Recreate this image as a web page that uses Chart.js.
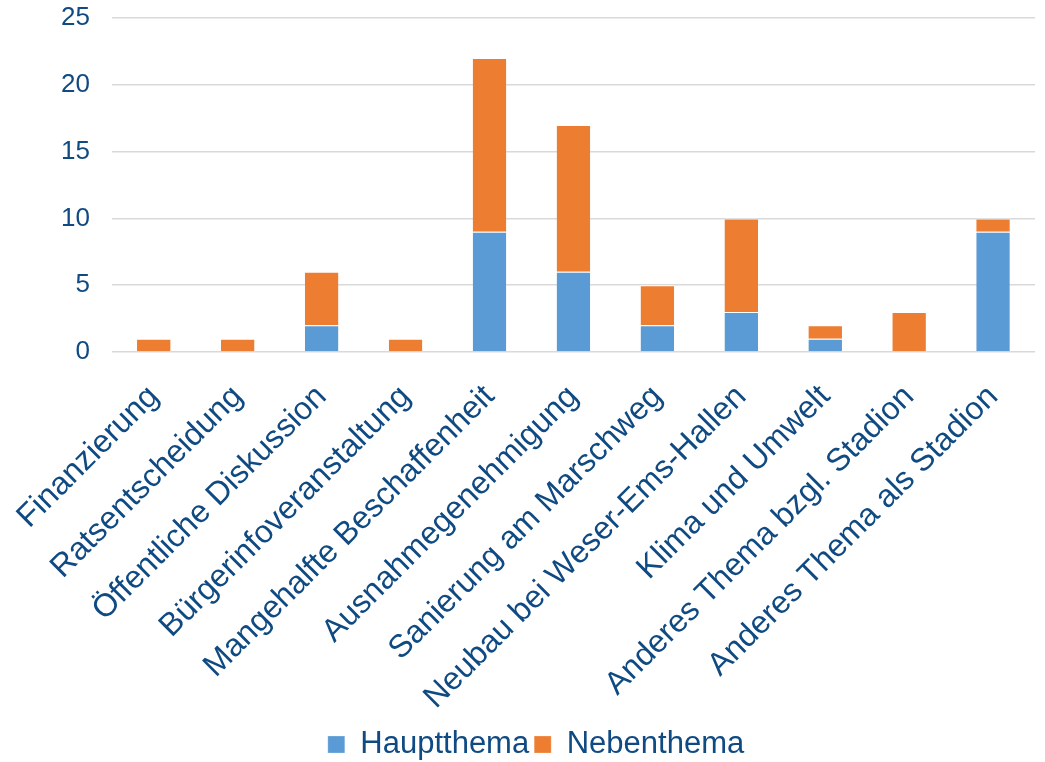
<!DOCTYPE html>
<html>
<head>
<meta charset="utf-8">
<script src="https://cdn.jsdelivr.net/npm/chart.js@4/dist/chart.umd.min.js"></script>
<style>
  html, body { margin: 0; padding: 0; background: #ffffff; }
  #wrap { width: 1045px; height: 762px; }
</style>
</head>
<body>
<div id="wrap"><canvas id="c" width="1045" height="762"></canvas></div>
<script>
const categories = [
  "Finanzierung",
  "Ratsentscheidung",
  "Öffentliche Diskussion",
  "Bürgerinfoveranstaltung",
  "Mangehalfte Beschaffenheit",
  "Ausnahmegenehmigung",
  "Sanierung am Marschweg",
  "Neubau bei Weser-Ems-Hallen",
  "Klima und Umwelt",
  "Anderes Thema bzgl. Stadion",
  "Anderes Thema als Stadion"
];
const hauptthema = [0, 0, 2, 0, 9, 6, 2, 3, 1, 0, 9];
const nebenthema = [1, 1, 4, 1, 13, 11, 3, 7, 1, 3, 1];
const yTicks = [0, 5, 10, 15, 20, 25];

const textColor = "#0f4a82";
const fontFamily = "'Liberation Sans', Arial, sans-serif";

new Chart(document.getElementById("c"), {
  type: "bar",
  data: {
    labels: categories,
    datasets: [
      {
        label: "Hauptthema",
        data: hauptthema,
        backgroundColor: "#5b9bd5",
        borderColor: "#ffffff",
        borderWidth: { top: 1, left: 0, right: 0, bottom: 0 },
        barPercentage: 0.4,
        categoryPercentage: 1.0
      },
      {
        label: "Nebenthema",
        data: nebenthema,
        backgroundColor: "#ed7d31",
        borderColor: "#ffffff",
        borderWidth: { top: 1, left: 0, right: 0, bottom: 0 },
        barPercentage: 0.4,
        categoryPercentage: 1.0
      }
    ]
  },
  options: {
    responsive: false,
    animation: false,
    layout: { padding: { left: 37, right: 10, top: 18, bottom: 0 } },
    scales: {
      x: {
        stacked: true,
        grid: { display: false },
        border: { display: false },
        ticks: {
          color: textColor,
          font: { family: fontFamily, size: 32 },
          minRotation: 45,
          maxRotation: 45,
          autoSkip: false,
          padding: 18
        }
      },
      y: {
        stacked: true,
        min: 0,
        max: 25,
        afterBuildTicks: (axis) => { axis.ticks = yTicks.map(v => ({ value: v })); },
        afterFit: (axis) => { axis.paddingTop = 0; },
        grid: { color: "#d9d9d9", lineWidth: 1.5, drawTicks: false },
        border: { display: false },
        ticks: {
          color: textColor,
          font: { family: fontFamily, size: 26 },
          padding: 22
        }
      }
    },
    plugins: {
      legend: {
        position: "bottom",
        maxHeight: 38,
        labels: {
          color: textColor,
          font: { family: fontFamily, size: 31 },
          boxWidth: 17,
          boxHeight: 17,
          padding: 5
        }
      },
      tooltip: { enabled: false }
    }
  }
});
</script>
</body>
</html>
